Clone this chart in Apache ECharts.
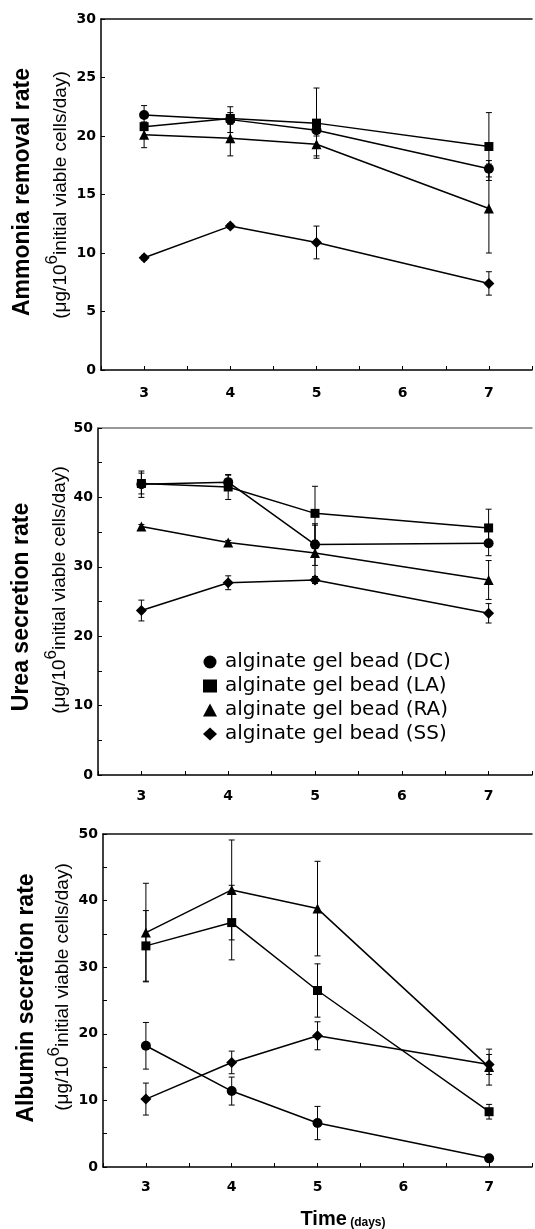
<!DOCTYPE html>
<html><head><meta charset="utf-8">
<script src="https://cdn.jsdelivr.net/npm/echarts@6/dist/echarts.min.js"></script>
<style>html,body{margin:0;padding:0;background:#fff}#c{width:535px;height:1229px}</style>
</head><body><div id="c"></div>
<script>
const days = [3, 4, 5, 7];
const names = ['alginate gel bead (DC)', 'alginate gel bead (LA)', 'alginate gel bead (RA)', 'alginate gel bead (SS)'];
const symbols = ['circle', 'rect', 'triangle', 'diamond'];
const symbolSizes = [10, 9, 10, 11];

// Panel 1: Ammonia removal rate
const ammDC = [21.8, 21.4, 20.5, 17.2];
const ammDCerr = [0.8, 1.1, 0.5, 0.7];
const ammLA = [20.8, 21.5, 21.1, 19.1];
const ammLAerr = [0.3, 0.5, 3.0, 2.9];
const ammRA = [20.1, 19.8, 19.3, 13.8];
const ammRAerr = [1.1, 1.5, 1.0, 3.8];
const ammSS = [9.6, 12.3, 10.9, 7.4];
const ammSSerr = [0.2, 0.2, 1.4, 1.0];

// Panel 2: Urea secretion rate
const ureaDC = [41.9, 42.2, 33.2, 33.4];
const ureaDCerr = [1.9, 1.0, 3.0, 1.8];
const ureaLA = [42.0, 41.5, 37.7, 35.6];
const ureaLAerr = [1.5, 1.8, 3.9, 2.7];
const ureaRA = [35.8, 33.5, 32.0, 28.1];
const ureaRAerr = [0.3, 0.3, 4.0, 2.8];
const ureaSS = [23.7, 27.7, 28.1, 23.3];
const ureaSSerr = [1.5, 1.0, 0.5, 1.4];

// Panel 3: Albumin secretion rate
const albDC = [18.2, 11.4, 6.6, 1.3];
const albDCerr = [3.5, 2.1, 2.5, 0.4];
const albLA = [33.2, 36.7, 26.5, 8.3];
const albLAerr = [5.3, 5.6, 4.0, 1.1];
const albRA = [35.2, 41.6, 38.8, 15.0];
const albRAerr = [7.4, 7.5, 7.1, 2.7];
const albSS = [10.2, 15.7, 19.7, 15.4];
const albSSerr = [2.4, 1.7, 2.1, 1.5];

const xTickLabels = ['3', '4', '5', '6', '7'];

const panels = [
  { means: [ammDC, ammLA, ammRA, ammSS], errs: [ammDCerr, ammLAerr, ammRAerr, ammSSerr], ymax: 30, labelStep: 5, title: 'Ammonia removal rate' },
  { means: [ureaDC, ureaLA, ureaRA, ureaSS], errs: [ureaDCerr, ureaLAerr, ureaRAerr, ureaSSerr], ymax: 50, labelStep: 10, title: 'Urea secretion rate' },
  { means: [albDC, albLA, albRA, albSS], errs: [albDCerr, albLAerr, albRAerr, albSSerr], ymax: 50, labelStep: 10, title: 'Albumin secretion rate' }
];

const grids = [
  { left: 101, top: 19, width: 443, height: 351 },
  { left: 98, top: 428, width: 443, height: 347 },
  { left: 103, top: 834, width: 443, height: 333 }
];
const xLabelMargin = [16, 14, 13];
const titlePos = [[23, 192, 57, 195], [22, 607, 56, 590], [27, 998, 59, 987]];

const FONT = '"Liberation Sans", Arial, sans-serif';
const TICKFONT = '"DejaVu Sans", sans-serif';

const xAxes = [], yAxes = [], series = [], graphics = [];
grids.forEach((g, i) => {
  xAxes.push({
    gridIndex: i, type: 'value', min: 2.5, max: 7.5, interval: 0.5,
    axisLine: { show: true, onZero: false, lineStyle: { color: '#000', width: 1.5 } },
    axisTick: { show: true, inside: true, length: 4, lineStyle: { color: '#000', width: 1 } },
    axisLabel: {
      margin: xLabelMargin[i], fontFamily: TICKFONT, fontWeight: 'bold', fontSize: 14, color: '#000',
      showMinLabel: true, showMaxLabel: true,
      formatter: v => xTickLabels.indexOf(String(v)) >= 0 ? String(v) : ''
    },
    splitLine: { show: false }
  });
  xAxes.push({
    gridIndex: i, type: 'value', min: 2.5, max: 7.5, position: 'top',
    axisLine: { show: true, onZero: false, lineStyle: { color: i === 1 ? '#777' : '#111', width: 1.5 } },
    axisTick: { show: false }, axisLabel: { show: false }, splitLine: { show: false }
  });
  const p = panels[i];
  yAxes.push({
    gridIndex: i, type: 'value', min: 0, max: p.ymax, interval: 5,
    axisLine: { show: true, onZero: false, lineStyle: { color: '#000', width: 1.5 } },
    axisTick: { show: true, inside: true, length: 4, lineStyle: { color: '#000', width: 1 } },
    axisLabel: {
      margin: 5, fontFamily: TICKFONT, fontWeight: 'bold', fontSize: 14, color: '#000',
      formatter: v => (v % p.labelStep === 0 ? String(v) : '')
    },
    splitLine: { show: false }
  });
  p.means.forEach((m, k) => {
    series.push({
      type: 'line', name: names[k], xAxisIndex: i * 2, yAxisIndex: i,
      data: days.map((d, j) => [d, m[j]]),
      symbol: symbols[k], symbolSize: symbolSizes[k], showAllSymbol: true,
      itemStyle: { color: '#000' }, lineStyle: { color: '#000', width: 1.5 },
      z: 3, animation: false
    });
  });
  p.means.forEach((m, k) => {
    const e = p.errs[k];
    series.push({
      type: 'custom', name: names[k], xAxisIndex: i * 2, yAxisIndex: i,
      data: days.map((d, j) => [d, m[j] - e[j], m[j] + e[j]]),
      encode: { x: 0, y: [1, 2] },
      itemStyle: { color: '#000' }, silent: true, z: 2, animation: false,
      renderItem: (params, api) => {
        const lo = api.coord([api.value(0), api.value(1)]);
        const hi = api.coord([api.value(0), api.value(2)]);
        const w = 3;
        const st = { stroke: '#000', lineWidth: 1 };
        return { type: 'group', children: [
          { type: 'line', shape: { x1: lo[0], y1: lo[1], x2: hi[0], y2: hi[1] }, style: st },
          { type: 'line', shape: { x1: lo[0] - w, y1: lo[1], x2: lo[0] + w, y2: lo[1] }, style: st },
          { type: 'line', shape: { x1: hi[0] - w, y1: hi[1], x2: hi[0] + w, y2: hi[1] }, style: st }
        ] };
      }
    });
  });
  const tp = titlePos[i];
  graphics.push({
    type: 'text', x: tp[0], y: tp[1], rotation: Math.PI / 2,
    style: { text: p.title, font: 'bold 23px ' + FONT, fill: '#000', align: 'center', verticalAlign: 'middle' }
  });
  graphics.push({
    type: 'text', x: tp[2], y: tp[3], rotation: Math.PI / 2,
    style: {
      text: '{s|(μg/10}{sup|6}{s|initial viable cells/day)}',
      align: 'center', verticalAlign: 'middle', fill: '#000',
      rich: {
        s: { fontFamily: FONT, fontSize: 19, fill: '#000', verticalAlign: 'bottom', lineHeight: 20 },
        sup: { fontFamily: FONT, fontSize: 17, fill: '#000', verticalAlign: 'top', lineHeight: 26, padding: [0, 0, 8, 0] }
      }
    }
  });
});

graphics.push({
  type: 'text', x: 343, y: 1219,
  style: {
    text: '{a|Time} {b|(days)}', align: 'center', verticalAlign: 'middle',
    rich: {
      a: { fontFamily: FONT, fontWeight: 'bold', fontSize: 20, fill: '#000', verticalAlign: 'bottom' },
      b: { fontFamily: FONT, fontWeight: 'bold', fontSize: 12, fill: '#000', verticalAlign: 'bottom' }
    }
  }
});

const chart = echarts.init(document.getElementById('c'), null, { renderer: 'canvas' });
chart.setOption({
  animation: false,
  backgroundColor: '#fff',
  grid: grids.map(g => Object.assign({ containLabel: false }, g)),
  xAxis: xAxes,
  yAxis: yAxes,
  legend: {
    orient: 'vertical', left: 198, top: 647, itemGap: 4, itemWidth: 14, itemHeight: 13,
    textStyle: { fontFamily: '"DejaVu Sans", sans-serif', fontSize: 20, color: '#000', padding: [0, 0, 0, 3] },
    data: names.map((n, k) => ({ name: n, icon: symbols[k], itemStyle: { color: '#000' } })),
    selectedMode: false
  },
  series: series,
  graphic: graphics
});
</script>
</body></html>
